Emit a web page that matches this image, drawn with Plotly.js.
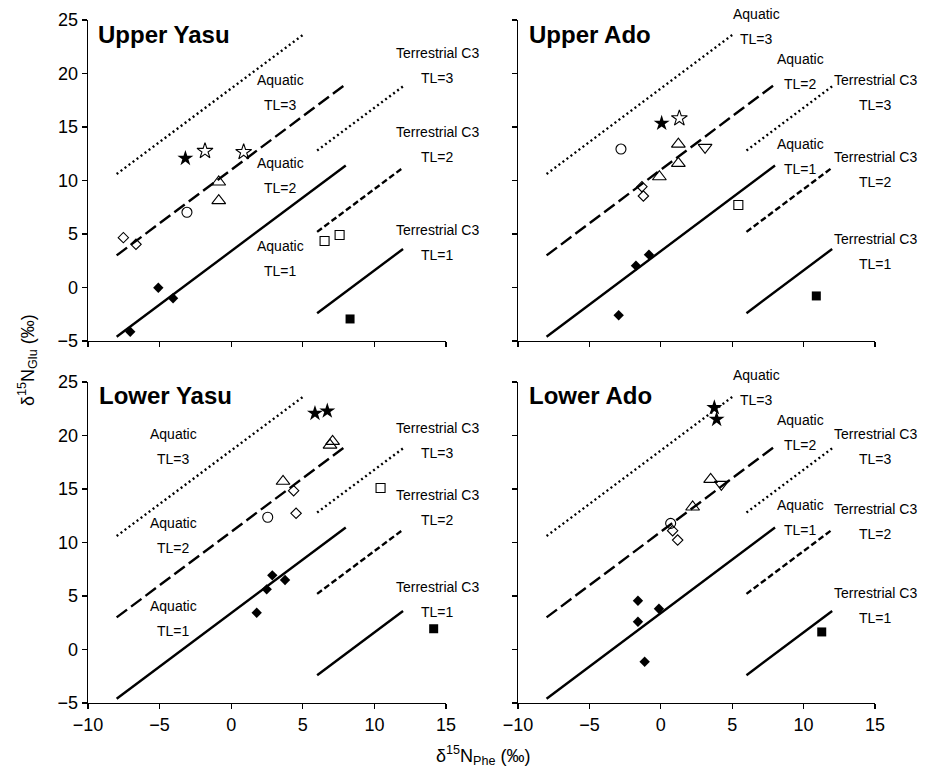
<!DOCTYPE html>
<html>
<head>
<meta charset="utf-8">
<script src="https://cdn.plot.ly/plotly-3.0.1.min.js"></script>
<style>html,body{margin:0;padding:0;background:#fff;}#chart{width:933px;height:774px;}</style>
</head>
<body>
<div id="chart"></div>
<script>
// ---------- Reference trophic-level lines (δ15N_Phe, δ15N_Glu) ----------
const aquaticTL1X = [-8, 8],  aquaticTL1Y = [-4.6, 11.4];
const aquaticTL2X = [-8, 8],  aquaticTL2Y = [3.0, 19.0];
const aquaticTL3X = [-8, 5],  aquaticTL3Y = [10.6, 23.6];
const terrTL1X = [6, 12],     terrTL1Y = [-2.4, 3.6];
const terrTL2X = [6, 12],     terrTL2Y = [5.2, 11.2];
const terrTL3X = [6, 12],     terrTL3Y = [12.8, 18.8];

// ---------- Panel names ----------
const panelNames = ["Upper Yasu", "Upper Ado", "Lower Yasu", "Lower Ado"];

// ---------- Upper Yasu ----------
const uyFilledDiamondX = [-7.05, -5.09, -4.06], uyFilledDiamondY = [-4.13, -0.02, -1.0];
const uyOpenDiamondX = [-7.53, -6.65],           uyOpenDiamondY = [4.66, 4.04];
const uyOpenCircleX = [-3.09],                   uyOpenCircleY = [7.03];
const uyTriUpX = [-0.87, -0.87],                 uyTriUpY = [9.86, 8.12];
const uyFilledStarX = [-3.2],                    uyFilledStarY = [12.07];
const uyOpenStarX = [-1.83, 0.87],               uyOpenStarY = [12.76, 12.66];
const uyOpenSquareX = [6.52, 7.57],              uyOpenSquareY = [4.35, 4.91];
const uyFilledSquareX = [8.30],                  uyFilledSquareY = [-2.94];

// ---------- Upper Ado ----------
const uaFilledDiamondX = [-1.74, -0.83, -2.95],  uaFilledDiamondY = [2.04, 3.07, -2.6];
const uaOpenDiamondX = [-1.32, -1.22],           uaOpenDiamondY = [9.42, 8.55];
const uaOpenCircleX = [-2.79],                   uaOpenCircleY = [12.94];
const uaTriUpX = [1.23, 1.23, -0.10],            uaTriUpY = [13.4, 11.6, 10.35];
const uaTriDownX = [3.10],                       uaTriDownY = [13.1];
const uaFilledStarX = [0.06],                    uaFilledStarY = [15.35];
const uaOpenStarX = [1.30],                      uaOpenStarY = [15.81];
const uaOpenSquareX = [5.43],                    uaOpenSquareY = [7.71];
const uaFilledSquareX = [10.89],                 uaFilledSquareY = [-0.79];

// ---------- Lower Yasu ----------
const lyFilledDiamondX = [2.87, 3.76, 2.48, 1.78], lyFilledDiamondY = [6.93, 6.50, 5.62, 3.44];
const lyOpenDiamondX = [4.36, 4.53],             lyOpenDiamondY = [14.84, 12.73];
const lyOpenCircleX = [2.55],                    lyOpenCircleY = [12.36];
const lyTriUpX = [7.08, 6.90, 3.62],             lyTriUpY = [19.45, 19.1, 15.72];
const lyFilledStarX = [5.85, 6.71],              lyFilledStarY = [22.07, 22.29];
const lyOpenSquareX = [10.43],                   lyOpenSquareY = [15.09];
const lyFilledSquareX = [14.14],                 lyFilledSquareY = [1.94];

// ---------- Lower Ado ----------
const laFilledDiamondX = [-1.60, -0.13, -1.60, -1.13], laFilledDiamondY = [4.56, 3.81, 2.6, -1.14];
const laOpenDiamondX = [0.83, 1.18],             laOpenDiamondY = [11.1, 10.23];
const laOpenCircleX = [0.69],                    laOpenCircleY = [11.79];
const laTriUpX = [3.49, 2.23],                   laTriUpY = [15.9, 13.32];
const laTriDownX = [4.24],                       laTriDownY = [15.43];
const laFilledStarX = [3.75, 3.91],              laFilledStarY = [22.6, 21.51];
const laFilledSquareX = [11.27],                 laFilledSquareY = [1.64];

// ---------- Label texts ----------
const labelWords = ["Aquatic", "Aquatic", "Aquatic", "Terrestrial C3", "Terrestrial C3", "Terrestrial C3"];
const labelTL = ["TL=3", "TL=2", "TL=1", "TL=3", "TL=2", "TL=1"];

// ================= drawing =================
const FONT = "Liberation Sans, Arial, Helvetica, sans-serif";
const markerStyles = {
  filledDiamond: {symbol: "diamond", size: 8, color: "#000", line: {color: "#000", width: 0}},
  openDiamond:   {symbol: "diamond-open", size: 8, color: "#000", line: {color: "#000", width: 1.1}},
  openCircle:    {symbol: "circle-open", size: 10, color: "#000", line: {color: "#000", width: 1.1}},
  triUp:         {symbol: "triangle-up-open", size: 12, color: "#000", line: {color: "#000", width: 1.1}},
  triDown:       {symbol: "triangle-down-open", size: 12, color: "#000", line: {color: "#000", width: 1.1}},
  filledStar:    {symbol: "star", size: 12, color: "#000", line: {color: "#000", width: 0}},
  openStar:      {symbol: "star-open", size: 12, color: "#000", line: {color: "#000", width: 1.1}},
  openSquare:    {symbol: "square-open", size: 9, color: "#000", line: {color: "#000", width: 1.1}},
  filledSquare:  {symbol: "square", size: 9, color: "#000", line: {color: "#000", width: 0}}
};
const lineDefs = [
  [aquaticTL1X, aquaticTL1Y, "solid"],
  [aquaticTL2X, aquaticTL2Y, "13px,5px"],
  [aquaticTL3X, aquaticTL3Y, "2px,3px"],
  [terrTL1X, terrTL1Y, "solid"],
  [terrTL2X, terrTL2Y, "6px,3px"],
  [terrTL3X, terrTL3Y, "2px,3px"]
];

const panels = [
  {xa: "x", ya: "y", groups: [
    [uyFilledDiamondX, uyFilledDiamondY, "filledDiamond"], [uyOpenDiamondX, uyOpenDiamondY, "openDiamond"],
    [uyOpenCircleX, uyOpenCircleY, "openCircle"], [uyTriUpX, uyTriUpY, "triUp"],
    [uyFilledStarX, uyFilledStarY, "filledStar"], [uyOpenStarX, uyOpenStarY, "openStar"],
    [uyOpenSquareX, uyOpenSquareY, "openSquare"], [uyFilledSquareX, uyFilledSquareY, "filledSquare"]],
   labels: [[3.41, 18.22], [3.41, 10.47], [3.41, 2.71], [14.44, 20.75], [14.44, 13.36], [14.44, 4.2]],
   title: [-9.42, 23.6]},
  {xa: "x2", ya: "y2", groups: [
    [uaFilledDiamondX, uaFilledDiamondY, "filledDiamond"], [uaOpenDiamondX, uaOpenDiamondY, "openDiamond"],
    [uaOpenCircleX, uaOpenCircleY, "openCircle"], [uaTriUpX, uaTriUpY, "triUp"], [uaTriDownX, uaTriDownY, "triDown"],
    [uaFilledStarX, uaFilledStarY, "filledStar"], [uaOpenStarX, uaOpenStarY, "openStar"],
    [uaOpenSquareX, uaOpenSquareY, "openSquare"], [uaFilledSquareX, uaFilledSquareY, "filledSquare"]],
   labels: [[6.72, 24.35], [9.75, 20.19], [9.75, 12.2], [15.0, 18.18], [15.0, 11.07], [15.0, 3.32]],
   title: [-9.4, 23.6]},
  {xa: "x3", ya: "y3", groups: [
    [lyFilledDiamondX, lyFilledDiamondY, "filledDiamond"], [lyOpenDiamondX, lyOpenDiamondY, "openDiamond"],
    [lyOpenCircleX, lyOpenCircleY, "openCircle"], [lyTriUpX, lyTriUpY, "triUp"],
    [lyFilledStarX, lyFilledStarY, "filledStar"],
    [lyOpenSquareX, lyOpenSquareY, "openSquare"], [lyFilledSquareX, lyFilledSquareY, "filledSquare"]],
   labels: [[-4.04, 18.95], [-4.04, 10.67], [-4.04, 2.87], [14.44, 19.49], [14.44, 13.25], [14.44, 4.65]],
   title: [-9.38, 23.7]},
  {xa: "x4", ya: "y4", groups: [
    [laFilledDiamondX, laFilledDiamondY, "filledDiamond"], [laOpenDiamondX, laOpenDiamondY, "openDiamond"],
    [laOpenCircleX, laOpenCircleY, "openCircle"], [laTriUpX, laTriUpY, "triUp"], [laTriDownX, laTriDownY, "triDown"],
    [laFilledStarX, laFilledStarY, "filledStar"], [laFilledSquareX, laFilledSquareY, "filledSquare"]],
   labels: [[6.72, 24.44], [9.75, 20.25], [9.75, 12.31], [15.0, 18.95], [15.0, 11.94], [15.0, 4.08]],
   title: [-9.35, 23.7]}
];

const traces = [];
const annotations = [];
panels.forEach((p, i) => {
  lineDefs.forEach(ld => {
    traces.push({x: ld[0], y: ld[1], xaxis: p.xa, yaxis: p.ya, mode: "lines", type: "scatter",
      line: {color: "#000", width: 2.4, dash: ld[2]}, hoverinfo: "skip", showlegend: false});
  });
  p.groups.forEach(g => {
    traces.push({x: g[0], y: g[1], xaxis: p.xa, yaxis: p.ya, mode: "markers", type: "scatter",
      marker: markerStyles[g[2]], showlegend: false, cliponaxis: false});
  });
  p.labels.forEach((pos, k) => {
    annotations.push({x: pos[0], y: pos[1], xref: p.xa, yref: p.ya, text: labelWords[k], showarrow: false,
      xanchor: "center", yanchor: "middle", yshift: 12.5, font: {family: FONT, size: 14, color: "#000"}});
    annotations.push({x: pos[0], y: pos[1], xref: p.xa, yref: p.ya, text: labelTL[k], showarrow: false,
      xanchor: "center", yanchor: "middle", yshift: -12.5, font: {family: FONT, size: 14, color: "#000"}});
  });
  annotations.push({x: p.title[0], y: p.title[1], xref: p.xa, yref: p.ya, text: "<b>" + panelNames[i] + "</b>",
    showarrow: false, xanchor: "left", yanchor: "middle", font: {family: FONT, size: 24, color: "#000"}});
});

annotations.push({x: 28 / 933, y: 1 - 360 / 774, xref: "paper", yref: "paper", textangle: -90,
  text: "δ<sup>15</sup>N<sub>Glu</sub> (‰)", showarrow: false, xanchor: "center", yanchor: "middle",
  font: {family: FONT, size: 18, color: "#000"}});
annotations.push({x: 483 / 933, y: 1 - 755 / 774, xref: "paper", yref: "paper",
  text: "δ<sup>15</sup>N<sub>Phe</sub> (‰)", showarrow: false, xanchor: "center", yanchor: "middle",
  font: {family: FONT, size: 18, color: "#000"}});

function axis(domain, range, anchor, showLabels) {
  return {domain: domain, range: range, anchor: anchor, showgrid: false, zeroline: false,
    showline: true, linecolor: "#000", linewidth: 1.3, ticks: "outside", ticklen: 5, tickwidth: 1.3,
    tickcolor: "#000", dtick: 5, tick0: 0, showticklabels: showLabels, fixedrange: true,
    tickfont: {family: FONT, size: 18, color: "#000"}};
}
const xL = [88 / 933, 446 / 933], xR = [518 / 933, 875 / 933];
const yT = [1 - 341 / 774, 1 - 20 / 774], yB = [1 - 703 / 774, 1 - 382 / 774];
const XR = [-10, 15], YR = [-5, 25];

const layout = {
  width: 933, height: 774, margin: {l: 0, r: 0, t: 0, b: 0},
  paper_bgcolor: "#fff", plot_bgcolor: "rgba(0,0,0,0)", showlegend: false,
  font: {family: FONT, color: "#000"},
  xaxis: axis(xL, XR, "y", false), yaxis: axis(yT, YR, "x", true),
  xaxis2: axis(xR, XR, "y2", false), yaxis2: axis(yT, YR, "x2", false),
  xaxis3: axis(xL, XR, "y3", true), yaxis3: axis(yB, YR, "x3", true),
  xaxis4: axis(xR, XR, "y4", true), yaxis4: axis(yB, YR, "x4", false),
  annotations: annotations
};
Plotly.newPlot("chart", traces, layout, {staticPlot: true, displayModeBar: false});
</script>
</body>
</html>
